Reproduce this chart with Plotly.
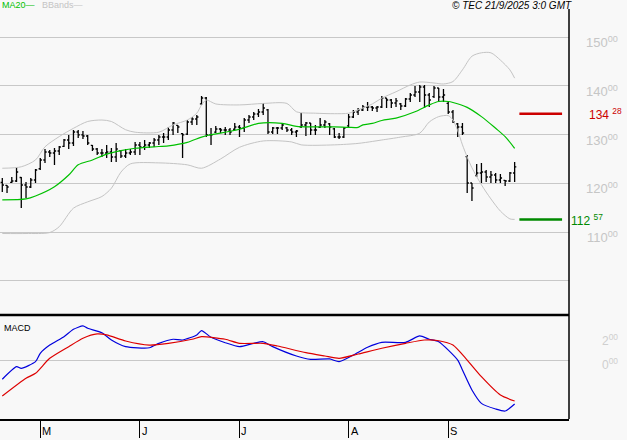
import plotly.graph_objects as go

# ---------------- data ----------------
high = [121.10, 119.66, 121.30, 123.36, 121.30, 120.28, 121.10, 122.95, 125.20, 127.05,
        126.85, 127.26, 127.67, 129.10, 129.93, 130.95, 130.95, 130.75, 129.93, 127.87,
        127.26, 127.05, 127.87, 127.26, 128.28, 126.85, 127.05, 127.05, 128.49, 128.49,
        128.90, 128.49, 129.31, 129.93, 130.34, 131.57, 132.59, 131.98, 130.34, 133.00,
        133.62, 134.03, 137.93, 137.73, 131.36, 131.77, 131.36, 131.57, 131.36, 132.39,
        131.98, 133.41, 134.03, 134.65, 135.26, 136.49, 135.26, 131.57, 131.57, 132.39,
        131.57, 131.36, 130.95, 134.44, 132.59, 132.39, 131.98, 133.41, 133.00, 132.39,
        131.36, 130.34, 131.57, 134.24, 135.06, 135.47, 136.08, 136.70, 135.88, 135.88,
        137.93, 137.52, 137.32, 137.52, 136.49, 137.52, 138.55, 139.98, 140.19, 140.19,
        138.55, 139.98, 139.57, 139.37, 136.70, 135.06, 132.39, 132.39, 125.82, 120.07,
        123.97, 124.18, 122.74, 122.54, 122.12, 121.92, 120.69, 122.33, 124.38]
low = [118.22, 118.02, 120.07, 120.28, 114.94, 116.99, 119.04, 120.07, 122.74, 124.18,
       125.41, 123.77, 125.82, 127.46, 127.05, 127.67, 129.31, 129.10, 127.87, 126.64,
       125.82, 125.41, 125.20, 124.38, 124.38, 125.20, 125.20, 125.82, 125.82, 125.82,
       126.85, 127.26, 127.46, 127.87, 128.28, 128.90, 129.93, 130.34, 125.20, 129.93,
       131.98, 131.98, 136.08, 129.51, 127.87, 130.34, 130.34, 129.93, 129.93, 130.95,
       129.51, 130.54, 132.39, 133.00, 133.62, 134.03, 130.13, 130.13, 130.13, 130.95,
       130.54, 129.93, 129.51, 131.36, 129.72, 129.93, 129.93, 131.36, 131.36, 129.93,
       129.31, 129.10, 129.31, 131.57, 133.41, 134.03, 134.85, 134.85, 134.85, 134.65,
       135.47, 135.47, 135.47, 135.67, 135.06, 135.67, 136.70, 137.73, 136.70, 135.47,
       135.67, 137.52, 136.70, 136.70, 134.24, 132.39, 129.51, 129.93, 118.02, 116.38,
       121.30, 120.07, 120.28, 120.07, 120.07, 120.07, 119.46, 120.28, 120.28]
close = [119.66, 119.25, 120.48, 122.33, 119.66, 119.25, 120.69, 122.74, 124.79, 126.43,
         126.23, 126.64, 127.46, 128.90, 128.28, 130.54, 129.93, 129.72, 128.28, 127.05,
         126.23, 126.23, 126.43, 125.41, 127.05, 125.61, 126.23, 126.43, 127.87, 127.46,
         127.87, 128.28, 128.90, 129.51, 129.51, 130.95, 132.39, 131.57, 129.93, 132.59,
         133.21, 133.62, 137.52, 129.93, 129.93, 131.16, 130.95, 130.95, 130.54, 131.57,
         131.36, 133.00, 133.62, 134.24, 134.65, 135.47, 130.54, 131.36, 131.36, 131.98,
         130.95, 130.54, 130.75, 131.98, 132.39, 130.95, 130.95, 131.98, 132.59, 131.57,
         129.51, 129.51, 131.36, 133.62, 134.65, 135.06, 135.67, 135.67, 135.47, 135.67,
         137.52, 137.11, 136.49, 136.91, 135.88, 137.32, 138.14, 138.75, 139.78, 138.14,
         137.11, 139.57, 137.73, 138.14, 134.65, 132.59, 131.57, 130.34, 120.07, 119.04,
         122.12, 122.33, 121.30, 121.71, 120.69, 121.10, 120.48, 122.12, 123.36]
open_ = [120.20, 119.60, 120.20, 120.48, 121.20, 119.66, 119.25, 120.69, 123.00, 124.79,
         126.43, 126.23, 126.64, 127.60, 128.90, 128.28, 130.54, 129.93, 129.72, 127.80,
         127.05, 126.23, 126.23, 126.43, 125.41, 126.70, 125.61, 126.23, 126.43, 127.87,
         127.46, 127.87, 128.28, 128.90, 129.51, 129.51, 130.95, 131.90, 130.20, 130.10,
         132.59, 133.21, 136.30, 137.52, 129.93, 130.50, 131.16, 130.95, 130.95, 131.10,
         131.57, 131.36, 133.00, 133.62, 134.24, 134.65, 135.10, 130.54, 131.36, 131.36,
         131.40, 130.95, 130.54, 131.60, 131.98, 132.39, 130.95, 131.50, 131.98, 132.20,
         131.20, 129.51, 129.51, 131.80, 133.62, 134.65, 135.06, 135.67, 135.67, 135.47,
         135.67, 137.52, 137.11, 136.49, 136.30, 135.88, 137.32, 138.14, 138.75, 139.78,
         138.14, 137.80, 139.57, 137.73, 136.40, 134.65, 132.20, 131.57, 125.50, 120.07,
         121.60, 122.12, 122.33, 121.30, 121.71, 120.69, 120.60, 120.48, 122.12]
day = list(range(len(close)))

ma20_day = [0, 5, 7, 11, 14, 16, 19, 22, 25, 28, 32, 35, 39, 42, 44, 46, 50, 54, 59, 62,
            66, 70, 73, 75, 76, 78, 80, 83, 87, 90, 92, 94, 95, 98, 101, 104, 106, 108]
ma20 = [116.6, 116.8, 117.4, 119.3, 121.7, 123.8, 124.8, 126.0, 126.7, 127.2, 127.5, 127.7,
        128.4, 129.5, 130.0, 130.3, 131.1, 132.3, 132.3, 131.7, 131.6, 131.6, 131.5, 131.5,
        132.0, 132.3, 132.9, 133.4, 134.7, 136.1, 136.8, 136.8, 136.6, 135.6, 133.7, 131.3,
        129.6, 127.2]

bbu_day = [0, 4, 7, 9, 12, 15, 18, 21, 23, 26, 28, 33, 36, 39, 41, 42, 43, 45, 50, 55, 60,
           62, 66, 70, 73, 75, 78, 80, 83, 86, 88, 91, 93, 95, 97, 99, 101, 103, 105, 107, 108]
bbu = [123.1, 123.4, 124.8, 127.5, 129.6, 131.3, 132.7, 133.0, 132.7, 131.0, 130.5, 130.5,
       132.0, 133.0, 134.4, 136.1, 137.1, 136.3, 136.1, 136.4, 136.4, 134.7, 134.4, 134.3,
       134.4, 135.1, 136.3, 137.5, 138.8, 140.2, 140.8, 140.6, 140.4, 140.9, 143.3, 146.1,
       146.8, 146.8, 145.3, 143.3, 141.6]

bbl_day = [0, 5, 10, 12, 15, 18, 21, 23, 25, 27, 33, 39, 42, 46, 50, 55, 61, 63, 70, 75,
           78, 80, 84, 88, 90, 92, 94, 95, 96, 97, 98, 99, 101, 103, 105, 107, 108]
bbl = [109.7, 109.7, 109.9, 111.1, 114.9, 116.2, 117.3, 119.0, 122.3, 124.0, 124.2, 123.8,
       123.1, 125.0, 127.4, 128.7, 128.5, 127.9, 127.9, 128.2, 128.6, 128.9, 129.5, 130.3,
       132.6, 133.7, 133.9, 133.0, 130.8, 127.9, 125.4, 123.2, 119.7, 116.8, 114.3, 112.7,
       112.6]

macd_day = [0, 3, 4, 7, 8, 10, 13, 15, 17, 18, 21, 23, 26, 31, 33, 36, 38, 41, 42, 44, 47,
            50, 53, 55, 57, 62, 65, 69, 71, 74, 77, 80, 85, 88, 90, 92, 96, 97, 99, 101,
            104, 106, 108]
macd = [-1.54, -0.52, -0.65, -0.11, 0.57, 1.24, 1.92, 2.52, 2.79, 2.60, 2.24, 1.65, 1.11,
        1.02, 1.38, 1.71, 1.65, 2.06, 2.41, 1.87, 1.43, 1.11, 1.38, 1.51, 1.11, 0.35, 0.08,
        0.11, -0.11, 0.43, 1.06, 1.46, 1.46, 1.98, 1.71, 1.51, 0.02, -0.79, -2.41, -3.50,
        -3.96, -4.12, -3.55]

sig_day = [0, 5, 7, 10, 14, 17, 20, 22, 26, 31, 35, 40, 42, 47, 50, 55, 58, 64, 68, 71,
           75, 80, 85, 89, 92, 95, 98, 101, 105, 108]
signal = [-2.90, -1.46, -1.06, 0.16, 1.11, 1.79, 2.14, 2.06, 1.57, 1.24, 1.38, 1.71, 1.92,
          1.71, 1.38, 1.38, 1.16, 0.62, 0.35, 0.16, 0.51, 0.98, 1.38, 1.65, 1.59, 1.24,
          0.02, -1.33, -2.82, -3.31]

month_day = [8, 29, 50, 73, 94]
month_label = ["M", "J", "J", "A", "S"]
price_grid = [100, 110, 120, 130, 140, 150]
price_labelled = [110, 120, 130, 140, 150]
macd_labelled = [2, 0]
levels = [134.28, 112.57]
level_colors = ["#cc0000", "#008a00"]
level_span = [109, 118]

# ---------------- layout geometry ----------------
W, H = 627, 440
ML, MR, MT, MB = 0, 58, 0, 21
PW, PH = W - ML - MR, H - MT - MB      # 569 x 419
price_dom = [(PH - 315) / PH, 1.0]
macd_dom = [0.0, (PH - 316) / PH]
x_range = [-0.485, 119.46]

BG = "#f8f8f8"
GRID = "#c8c8c8"
FONT = "Liberation Sans, Arial, sans-serif"

fig = go.Figure()

# Bollinger bands + MA20
fig.add_trace(go.Scatter(x=bbu_day, y=bbu, mode="lines", xaxis="x", yaxis="y",
                         line=dict(color="#c4c4c4", width=1, shape="spline", smoothing=0.8),
                         hoverinfo="skip"))
fig.add_trace(go.Scatter(x=bbl_day, y=bbl, mode="lines", xaxis="x", yaxis="y",
                         line=dict(color="#c4c4c4", width=1, shape="spline", smoothing=0.8),
                         hoverinfo="skip"))
fig.add_trace(go.Scatter(x=ma20_day, y=ma20, mode="lines", xaxis="x", yaxis="y",
                         line=dict(color="#00c000", width=1.2, shape="spline", smoothing=0.8),
                         hoverinfo="skip"))

# price bars
fig.add_trace(go.Ohlc(x=day, open=open_, high=high, low=low, close=close,
                      xaxis="x", yaxis="y", tickwidth=0.35,
                      increasing=dict(line=dict(color="black", width=1.3)),
                      decreasing=dict(line=dict(color="black", width=1.3))))

# level lines
for lv, col in zip(levels, level_colors):
    fig.add_trace(go.Scatter(x=level_span, y=[lv, lv], mode="lines", xaxis="x", yaxis="y",
                             line=dict(color=col, width=2.5), hoverinfo="skip"))

# MACD panel
fig.add_trace(go.Scatter(x=macd_day, y=macd, mode="lines", xaxis="x2", yaxis="y2",
                         line=dict(color="#0000dd", width=1.2, shape="spline", smoothing=0.6),
                         hoverinfo="skip"))
fig.add_trace(go.Scatter(x=sig_day, y=signal, mode="lines", xaxis="x2", yaxis="y2",
                         line=dict(color="#dd0000", width=1.2, shape="spline", smoothing=0.6),
                         hoverinfo="skip"))

annotations = []
for v in price_labelled:
    annotations.append(dict(text=f"{v}<sup>00</sup>", x=620 / PW, xref="paper", y=v, yref="y",
                            xanchor="right", yanchor="middle", yshift=-5, showarrow=False,
                            font=dict(family=FONT, size=13, color="#c6c6c6")))
for v in macd_labelled:
    annotations.append(dict(text=f"{v}<sup>00</sup>", x=620 / PW, xref="paper", y=v, yref="y2",
                            xanchor="right", yanchor="middle", yshift=-4, showarrow=False,
                            font=dict(family=FONT, size=12, color="#cfcfcf")))
for lv, col, (xa, xp) in zip(levels, level_colors, [("right", 624), ("left", 569)]):
    ip = int(lv)
    dp = int(round((lv - ip) * 100))
    annotations.append(dict(text=f"{ip} <sup>{dp:02d}</sup>", x=xp / PW, xref="paper",
                            y=lv, yref="y", xanchor=xa, yanchor="middle", showarrow=False,
                            font=dict(family=FONT, size=12, color=col)))
for d, lab in zip(month_day, month_label):
    annotations.append(dict(text=lab, x=d, xref="x2", y=(PH - 431) / PH, yref="paper",
                            xanchor="left", yanchor="middle", xshift=0, showarrow=False,
                            font=dict(family=FONT, size=11, color="black")))
annotations += [
    dict(text="MA20—", x=0, xref="paper", y=1 - 5 / PH, yref="paper", xanchor="left",
         yanchor="middle", showarrow=False, font=dict(family=FONT, size=9, color="#00c000")),
    dict(text="BBands—", x=40 / PW, xref="paper", y=1 - 5 / PH, yref="paper",
         xanchor="left", yanchor="middle", showarrow=False,
         font=dict(family=FONT, size=9, color="#c4c4c4")),
    dict(text="<i>© TEC 21/9/2025 3:0 GMT</i>", x=574 / PW, xref="paper", y=1 - 5 / PH,
         yref="paper", xanchor="right", yanchor="middle", showarrow=False,
         font=dict(family=FONT, size=10, color="black")),
    dict(text="MACD", x=2 / PW, xref="paper", y=(PH - 327.5) / PH, yref="paper",
         xanchor="left", yanchor="middle", showarrow=False,
         font=dict(family=FONT, size=9, color="black")),
]

shapes = [
    dict(type="line", xref="paper", yref="paper", x0=0, x1=1, y0=price_dom[0], y1=price_dom[0],
         line=dict(color="black", width=2.5)),
    dict(type="line", xref="paper", yref="paper", x0=1, x1=1, y0=0, y1=(PH - 9) / PH,
         line=dict(color="black", width=1.5)),
]

fig.update_layout(
    width=W, height=H, margin=dict(l=ML, r=MR, t=MT, b=MB),
    paper_bgcolor=BG, plot_bgcolor=BG, showlegend=False,
    font=dict(family=FONT),
    xaxis=dict(domain=[0, 1], range=x_range, anchor="y", showgrid=False, zeroline=False,
               showticklabels=False, ticks="", showline=False,
               rangeslider=dict(visible=False), fixedrange=True),
    xaxis2=dict(domain=[0, 1], range=x_range, anchor="y2", showgrid=False, zeroline=False,
                tickmode="array", tickvals=month_day, ticks="outside", ticklen=17,
                tickwidth=1, tickcolor="black", showticklabels=False,
                showline=True, linecolor="black", linewidth=2, fixedrange=True),
    yaxis=dict(domain=price_dom, range=[92.97, 157.64], tickmode="array", tickvals=price_grid,
               showgrid=True, gridcolor=GRID, gridwidth=1, zeroline=False,
               showticklabels=False, ticks="", showline=False, fixedrange=True),
    yaxis2=dict(domain=macd_dom, range=[-4.77, 3.6], tickmode="array", tickvals=[0],
                showgrid=True, gridcolor=GRID, gridwidth=1, zeroline=False,
                showticklabels=False, ticks="", showline=False, fixedrange=True),
    annotations=annotations, shapes=shapes,
)

fig.write_html("out.html", config={"displayModeBar": False},
               post_script="document.body.style.margin='0';document.body.style.background='#f8f8f8';")
